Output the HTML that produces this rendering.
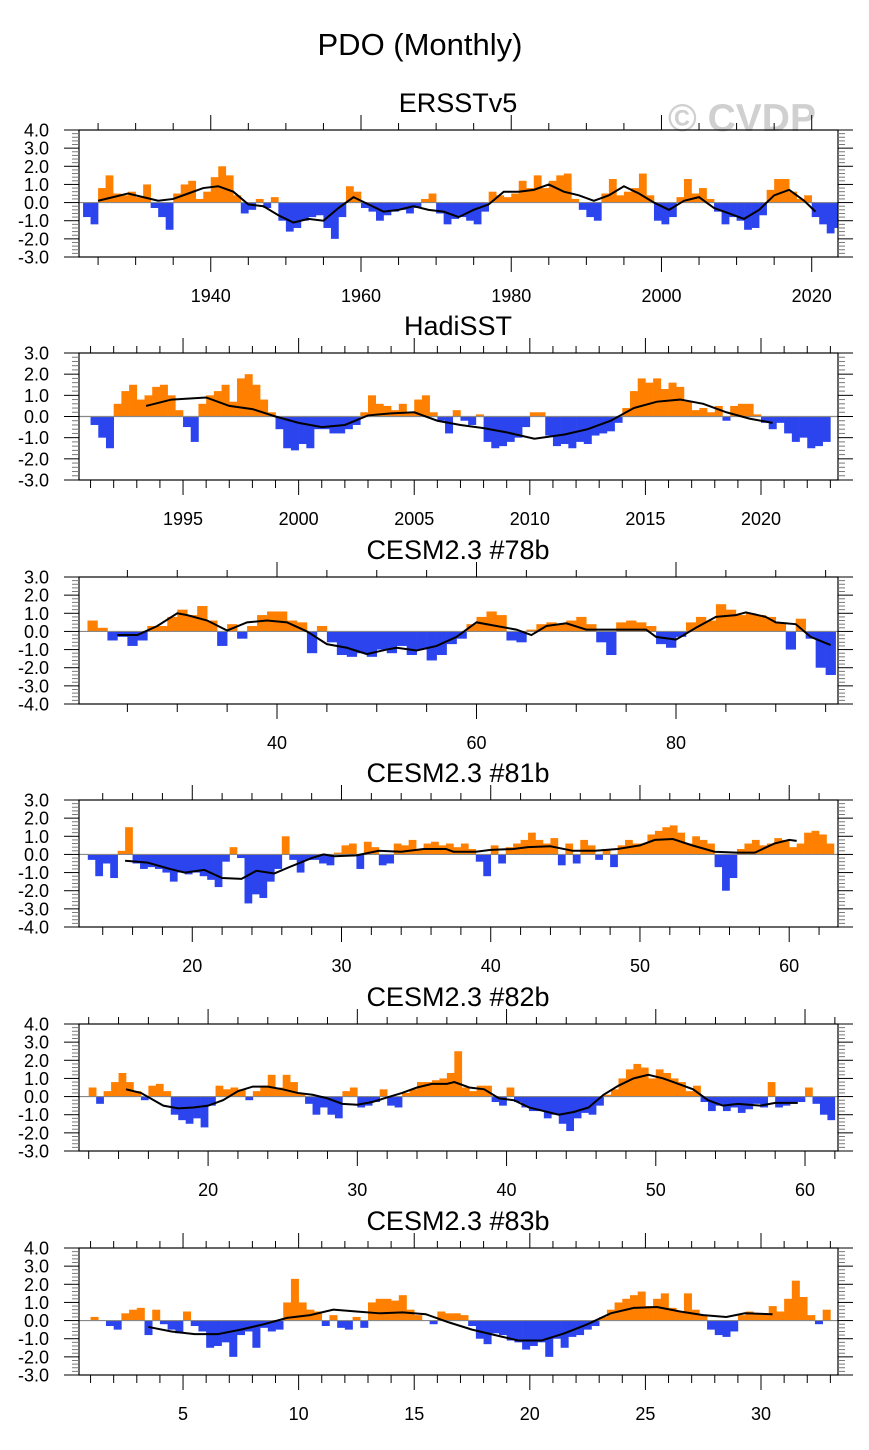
<!DOCTYPE html>
<html><head><meta charset="utf-8">
<style>
html,body{margin:0;padding:0;background:#fff;}
svg{display:block;font-family:"Liberation Sans",Arial,sans-serif;}
</style></head>
<body>
<svg id="chart" width="869" height="1450" viewBox="0 0 869 1450" xmlns="http://www.w3.org/2000/svg">
<rect width="869" height="1450" fill="#fff"/>
<text x="420" y="55" font-size="31" text-anchor="middle" fill="#000">PDO (Monthly)</text>
<text x="742" y="131" font-size="39" font-weight="bold" text-anchor="middle" fill="#d0d0d0">© CVDP</text>
</svg>
<script>
// ---------- DATA ----------
const ersstStart = 1923, ersstStep = 1;
const ersstVals = [-0.8,-1.2,0.8,1.5,0.5,0.4,0.6,0.3,1.0,-0.3,-0.8,-1.5,0.5,1.0,1.2,0.2,0.6,1.4,2.0,1.5,0.4,-0.6,-0.4,0.2,-0.3,0.3,-1.0,-1.6,-1.4,-1.0,-0.8,-0.7,-1.4,-2.0,-0.8,0.9,0.6,-0.3,-0.5,-1.0,-0.7,-0.5,-0.4,-0.6,-0.3,0.2,0.5,-0.6,-1.2,-0.9,-0.8,-1.0,-1.2,-0.5,0.6,0.4,0.3,0.5,1.2,0.8,1.5,0.8,1.2,1.5,1.6,0.2,-0.4,-0.8,-1.0,0.5,1.3,0.4,0.6,0.8,1.6,0.4,-1.0,-1.2,-0.8,0.3,1.3,0.5,0.8,0.2,-0.5,-1.2,-0.8,-1.0,-1.5,-1.4,-0.7,0.7,1.3,1.3,0.6,0.2,0.4,-0.8,-1.2,-1.7,-1.4];
const ersstLineX = [1925,1927,1929,1931,1933,1935,1937,1939,1941,1943,1945,1947,1949,1951,1953,1955,1957,1959,1961,1963,1965,1967,1969,1971,1973,1975,1977,1979,1981,1983,1985,1987,1989,1991,1993,1995,1997,1999,2001,2003,2005,2007,2009,2011,2013,2015,2017,2019,2020.5];
const ersstLineY = [0.1,0.3,0.5,0.3,0.1,0.2,0.5,0.8,0.9,0.6,-0.1,-0.2,-0.7,-1.1,-0.9,-1.0,-0.3,0.3,-0.1,-0.5,-0.4,-0.2,-0.4,-0.5,-0.8,-0.4,-0.1,0.6,0.6,0.7,1.0,0.6,0.4,0.1,0.4,0.9,0.5,0.0,-0.4,0.1,0.3,-0.3,-0.6,-0.9,-0.4,0.4,0.7,0.1,-0.5];
const ersstXTicks = ["1940","1960","1980","2000","2020"];

const hadiStart = 1991, hadiStep = 1/3;
const hadiVals = [-0.4,-1.0,-1.5, 0.6,1.2,1.5, 0.8,1.0,1.4, 1.5,1.0,0.3, -0.5,-1.2,0.6, 1.0,1.2,1.5, 0.7,1.8,2.0, 1.5,0.8,0.2, -0.6,-1.5,-1.6, -1.3,-1.5,-0.6, -0.6,-0.8,-0.8, -0.6,-0.4,0.2, 1.0,0.6,0.5, 0.3,0.6,0.2, 0.8,1.0,0.2, -0.2,-0.8,0.3, -0.2,-0.4,0.1, -1.2,-1.5,-1.4, -1.2,-1.0,-0.5, 0.2,0.2,-0.9, -1.4,-1.3,-1.5, -1.2,-1.3,-0.9, -0.8,-0.7,-0.3, 0.4,1.2,1.8, 1.6,1.8,1.3, 1.6,1.4,0.7, 0.3,0.4,0.2, 0.5,-0.2,0.5, 0.6,0.6,0.1, -0.3,-0.6,-0.3, -0.8,-1.2,-1.0, -1.5,-1.4,-1.2];
const hadiLineX = [1993.4,1994.5,1996,1997,1998,1999,2000,2001,2002,2003,2004,2005,2006,2007,2008,2009,2010.2,2011.5,2012.5,2013.5,2014.5,2015.5,2016.5,2017.5,2018.5,2019.5,2020.5];
const hadiLineY = [0.5,0.8,0.9,0.5,0.35,0.0,-0.3,-0.5,-0.4,0.05,0.15,0.2,-0.2,-0.4,-0.55,-0.75,-1.05,-0.85,-0.6,-0.2,0.4,0.7,0.8,0.6,0.2,-0.1,-0.3];
const hadiXTicks = ["1995","2000","2005","2010","2015","2020"];

const c78Start = 21, c78Step = 1;
const c78Vals = [0.6,0.2,-0.5,-0.3,-0.8,-0.5,0.3,0.3,0.8,1.2,0.9,1.4,0.6,-0.8,0.4,-0.4,0.3,0.9,1.1,1.1,0.6,0.5,-1.2,0.3,-0.6,-1.3,-1.4,-1.2,-1.4,-1.0,-1.2,-0.8,-1.3,-1.0,-1.6,-1.3,-0.7,-0.4,0.4,0.8,1.1,0.9,-0.5,-0.6,0.1,0.4,0.5,0.4,0.6,0.8,0.4,-0.6,-1.3,0.5,0.6,0.5,0.3,-0.7,-0.9,-0.3,0.5,0.8,0.6,1.5,1.2,0.9,1.0,0.9,0.8,0.5,-1.0,0.7,-0.4,-2.0,-2.4];
const c78LineX = [24,26,28,30,31,33,35,37,39,41,43,45,47,49,51,52,54,56,58,60,62,64,65.5,67,69,71,73,75,77,78,80,82,84,86,87,89,90,92,93.5,95.5];
const c78LineY = [-0.2,-0.2,0.3,1.0,0.9,0.6,0.05,0.5,0.6,0.5,0.0,-0.7,-0.9,-1.25,-1.0,-0.9,-1.05,-0.8,-0.3,0.5,0.3,0.1,-0.2,0.3,0.45,0.1,0.1,0.1,0.1,-0.3,-0.45,0.2,0.8,0.9,1.05,0.8,0.5,0.4,-0.3,-0.75];
const c78XTicks = ["40","60","80"];

const c81Start = 13, c81Step = 0.5;
const c81Vals = [-0.3,-1.2,-0.5,-1.3,0.2,1.5,-0.5,-0.8,-0.7,-0.8,-1.0,-1.5,-1.0,-1.1,-1.0,-1.2,-1.4,-1.8,-0.4,0.4,-0.2,-2.7,-2.2,-2.4,-1.5,-0.8,1.0,-0.3,-1.0,-0.3,-0.3,-0.5,-0.6,0.1,0.5,0.6,-0.8,0.7,0.4,-0.6,-0.5,0.6,0.5,0.8,0.3,0.6,0.7,0.5,0.6,0.4,0.6,0.3,-0.4,-1.2,0.5,-0.5,0.4,0.6,0.8,1.2,0.8,0.6,0.9,-0.6,0.6,-0.5,0.8,0.5,-0.3,0.3,-0.7,0.5,0.8,0.6,0.6,1.1,1.3,1.5,1.6,1.2,0.6,1.0,0.8,0.6,-0.7,-2.0,-1.3,0.3,0.6,0.8,0.5,0.6,0.9,0.8,0.4,0.6,1.2,1.3,1.1,0.6];
const c81LineX = [15.5,17,18.5,19.5,20.8,22,23.3,24.3,25.5,26.5,28,28.8,29.5,31,32.5,34,35.5,37,37.5,39,40,41.5,42.5,44,45.5,47,48.5,50,51,52.2,53.5,55,56.5,57.7,59,60,60.5];
const c81LineY = [-0.35,-0.45,-0.8,-1.0,-0.85,-1.3,-1.35,-0.9,-1.05,-0.7,-0.2,0.0,-0.1,-0.05,0.2,0.15,0.3,0.3,0.15,0.15,0.25,0.3,0.4,0.45,0.2,0.2,0.3,0.5,0.8,0.85,0.5,0.15,0.1,0.1,0.6,0.8,0.75];
const c81XTicks = ["20","30","40","50","60"];

const c82Start = 12, c82Step = 0.5;
const c82Vals = [0.5,-0.4,0.3,0.8,1.3,0.8,0.3,-0.2,0.6,0.7,0.3,-1.0,-1.3,-1.5,-1.2,-1.7,-0.5,0.6,0.4,0.5,0.4,-0.2,0.3,0.6,1.2,0.5,1.2,0.8,0.2,-0.4,-1.0,-0.6,-1.0,-1.2,0.3,0.5,-0.6,-0.5,-0.3,0.4,-0.5,-0.6,0.2,0.4,0.8,0.8,0.9,1.0,1.3,2.5,0.5,0.3,0.6,0.6,-0.3,-0.5,0.5,-0.3,-0.6,-0.8,-0.8,-1.2,-1.0,-1.5,-1.9,-1.2,-0.9,-1.0,-0.5,0.1,0.4,1.0,1.5,1.8,1.6,1.0,1.5,1.3,1.0,0.8,0.3,0.6,-0.3,-0.8,-0.5,-0.8,-0.6,-0.9,-0.7,-0.4,-0.6,0.8,-0.6,-0.5,-0.4,-0.3,0.5,-0.4,-1.0,-1.3];
const c82LineX = [14.5,15.5,17,18,19,20,21,22,23,24,25,26,27,28,29,30,31,32,33,34,35,36,36.5,37.5,38.5,39.5,40.5,41.5,42.5,43.5,44.5,45.5,46.5,47.5,48.5,49.5,50.5,51.5,52.5,53.5,54.5,55.5,57,58,59.5];
const c82LineY = [0.4,0.2,-0.5,-0.65,-0.6,-0.5,-0.2,0.3,0.55,0.55,0.4,0.2,0.1,-0.1,-0.4,-0.45,-0.3,-0.05,0.2,0.5,0.7,0.7,0.8,0.5,0.4,-0.1,-0.2,-0.6,-0.8,-1.0,-0.85,-0.6,0.1,0.6,1.0,1.2,1.0,0.7,0.4,-0.2,-0.5,-0.4,-0.5,-0.35,-0.35];
const c82XTicks = ["20","30","40","50","60"];

const c83Start = 1, c83Step = 1/3;
const c83Vals = [0.2,0.0,-0.3, -0.5,0.4,0.6, 0.7,-0.8,0.6, -0.2,-0.5,-0.7, 0.5,-0.3,-0.6, -1.5,-1.4,-1.2, -2.0,-0.8,-0.6, -1.5,-0.4,-0.6, -0.5,1.0,2.3, 1.0,0.6,0.5, -0.3,0.3,-0.4, -0.5,0.2,-0.4, 1.0,1.2,1.2, 1.1,1.4,0.6, 0.3,0.0,-0.2, 0.5,0.4,0.4, 0.3,-0.3,-1.0, -1.3,-0.7,-0.8, -1.1,-1.2,-1.6, -1.4,-1.2,-2.0, -1.0,-1.5,-0.9, -0.8,-0.5,-0.3, 0.2,0.6,1.0, 1.2,1.4,1.6, 0.8,1.2,1.5, 0.7,0.5,1.5, 0.6,0.3,-0.5, -0.8,-0.9,-0.6, 0.3,0.5,0.4, 0.4,0.8,0.5, 1.2,2.2,1.3, 0.3,-0.2,0.6];
const c83LineX = [3.5,4.5,5.5,6.5,7.5,8.5,9.5,10.5,11.5,12.5,13.5,14.5,15.5,16.5,17.5,18.5,19.5,20.5,21.5,22.5,23.5,24.5,25.5,26.5,27.5,28.5,29.3,30.5];
const c83LineY = [-0.35,-0.6,-0.75,-0.75,-0.5,-0.2,0.15,0.3,0.6,0.5,0.4,0.45,0.35,-0.1,-0.5,-0.8,-1.1,-1.1,-0.7,-0.2,0.4,0.7,0.75,0.5,0.3,0.2,0.4,0.35];
const c83XTicks = ["5","10","15","20","25","30"];

const yTickLabelsA = ["4.0","3.0","2.0","1.0","0.0","-1.0","-2.0","-3.0"];
const yTickLabelsB = ["3.0","2.0","1.0","0.0","-1.0","-2.0","-3.0"];
const yTickLabelsC = ["3.0","2.0","1.0","0.0","-1.0","-2.0","-3.0","-4.0"];

// ---------- LAYOUT ----------
const NS = "http://www.w3.org/2000/svg";
const svg = document.getElementById('chart');
const L = 79, R = 838, H = 127;
const ORANGE = "#ff8000", BLUE = "#2b44ee";

function mk(tag, attrs, parent){
  const e = document.createElementNS(NS, tag);
  for (const k in attrs) e.setAttribute(k, attrs[k]);
  (parent||svg).appendChild(e);
  return e;
}

const defs = mk('defs', {});
const panels = [
  {key:'ersst', title:'ERSSTv5', top:130, xmin:1922.46, xmax:2023.5, ymin:-3, ymax:4, major:20, minor:5, firstMajor:1940, start:ersstStart, step:ersstStep, vals:ersstVals, lx:ersstLineX, ly:ersstLineY, xt:ersstXTicks, yt:yTickLabelsA},
  {key:'hadisst', title:'HadiSST', top:353, xmin:1990.5, xmax:2023.33, ymin:-3, ymax:3, major:5, minor:1, firstMajor:1995, start:hadiStart, step:hadiStep, vals:hadiVals, lx:hadiLineX, ly:hadiLineY, xt:hadiXTicks, yt:yTickLabelsB},
  {key:'cesm78b', title:'CESM2.3 #78b', top:577, xmin:20.15, xmax:96.24, ymin:-4, ymax:3, major:20, minor:5, firstMajor:40, start:c78Start, step:c78Step, vals:c78Vals, lx:c78LineX, ly:c78LineY, xt:c78XTicks, yt:yTickLabelsC},
  {key:'cesm81b', title:'CESM2.3 #81b', top:800, xmin:12.41, xmax:63.27, ymin:-4, ymax:3, major:10, minor:2, firstMajor:20, start:c81Start, step:c81Step, vals:c81Vals, lx:c81LineX, ly:c81LineY, xt:c81XTicks, yt:yTickLabelsC},
  {key:'cesm82b', title:'CESM2.3 #82b', top:1024, xmin:11.35, xmax:62.21, ymin:-3, ymax:4, major:10, minor:2, firstMajor:20, start:c82Start, step:c82Step, vals:c82Vals, lx:c82LineX, ly:c82LineY, xt:c82XTicks, yt:yTickLabelsA},
  {key:'cesm83b', title:'CESM2.3 #83b', top:1248, xmin:0.5, xmax:33.33, ymin:-3, ymax:4, major:5, minor:1, firstMajor:5, start:c83Start, step:c83Step, vals:c83Vals, lx:c83LineX, ly:c83LineY, xt:c83XTicks, yt:yTickLabelsA}
];

panels.forEach(p => {
  const g = mk('g', {});
  
  
  const xs = v => L + (v - p.xmin) / (p.xmax - p.xmin) * (R - L);
  const ys = v => p.top + (p.ymax - v) / (p.ymax - p.ymin) * H;
  const y0 = ys(0);

  const cp = mk('clipPath', {id:'clip-' + p.key}, defs);
  mk('rect', {x:L, y:p.top, width:R-L, height:H}, cp);

  const t = mk('text', {x:458, y:p.top-18, 'font-size':27, 'text-anchor':'middle', fill:'#000'}, g);
  t.textContent = p.title;
  
  

  // bars
  const bars = mk('g', {'clip-path':'url(#clip-' + p.key + ')'}, g);
  
  
  p.vals.forEach((v, i) => {
    const x1 = xs(p.start + i * p.step), x2 = xs(p.start + (i + 1) * p.step);
    const yv = ys(v);
    const r = mk('rect', {x:x1.toFixed(2), y:Math.min(yv, y0).toFixed(2), width:(x2-x1+0.3).toFixed(2), height:Math.abs(yv-y0).toFixed(2), fill: v >= 0 ? ORANGE : BLUE}, bars);
    
    
  });

  // zero line
  const zl = mk('line', {x1:L, x2:R, y1:y0, y2:y0, stroke:'#888', 'stroke-width':1.2}, g);
  
  

  // smoothed line
  const pts = p.lx.map((x, i) => xs(x).toFixed(2) + ',' + ys(p.ly[i]).toFixed(2)).join(' ');
  const pl = mk('polyline', {points:pts, fill:'none', stroke:'#000', 'stroke-width':2}, g);
  
  

  // frame
  const fr = mk('rect', {x:L, y:p.top, width:R-L, height:H, fill:'none', stroke:'#000', 'stroke-width':1.2}, g);
  
  

  // x ticks
  const ax = mk('g', {stroke:'#000', 'stroke-width':1}, g);
  
  
  const firstMinor = Math.ceil(p.xmin / p.minor) * p.minor;
  for (let v = firstMinor; v <= p.xmax; v += p.minor) {
    const isMajor = Math.abs(((v - p.firstMajor) % p.major + p.major) % p.major) < 1e-6;
    const len = isMajor ? 15 : 8;
    const x = xs(v);
    mk('line', {x1:x, x2:x, y1:p.top+H, y2:p.top+H+len}, ax);
    mk('line', {x1:x, x2:x, y1:p.top, y2:p.top-(isMajor?15:7)}, ax);
  }
  p.xt.forEach(lab => {
    const tx = mk('text', {x:xs(parseFloat(lab)), y:p.top+H+45, 'font-size':18, 'text-anchor':'middle', fill:'#000', stroke:'none'}, g);
    tx.textContent = lab;
    
    
  });

  // y ticks
  const ay = mk('g', {'stroke-width':1}, g);
  
  
  const n = Math.round((p.ymax - p.ymin) / 0.2);
  for (let k = 0; k <= n; k++) {
    const v = p.ymin + k * 0.2;
    const isMajor = k % 5 === 0;
    const len = isMajor ? 15 : 7;
    const col = isMajor ? '#000' : '#777';
    const y = ys(v);
    mk('line', {x1:L, x2:L-len, y1:y, y2:y, stroke:col}, ay);
    mk('line', {x1:R, x2:R+len, y1:y, y2:y, stroke:col}, ay);
  }
  p.yt.forEach(lab => {
    const ty = mk('text', {x:49, y:ys(parseFloat(lab))+6.5, 'font-size':18, 'text-anchor':'end', fill:'#000'}, g);
    ty.textContent = lab;
    
    
  });
});
</script>
</body></html>
